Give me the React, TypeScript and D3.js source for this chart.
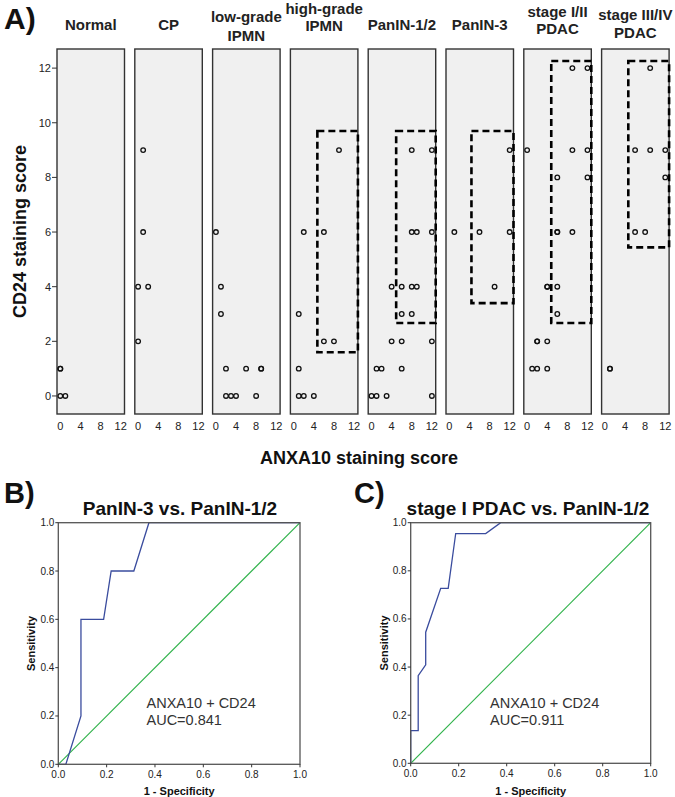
import * as d3 from 'd3';

// panel titles (one array entry per line)
const groupTitles = [
  ['Normal'],
  ['CP'],
  ['low-grade', 'IPMN'],
  ['high-grade', 'IPMN'],
  ['PanIN-1/2'],
  ['PanIN-3'],
  ['stage I/II', 'PDAC'],
  ['stage III/IV', 'PDAC'],
];

// ANXA10 score (x) and CD24 score (y) per case, per group
const anxa10 = [
  [0, 1, 0, 0],
  [1, 1, 0, 2, 0],
  [0, 1, 1, 2, 6, 9, 9, 2, 3, 4, 8],
  [9, 2, 6, 1, 6, 8, 1, 1, 2, 4],
  [8, 12, 8, 9, 12, 4, 6, 8, 9, 6, 8, 4, 6, 12, 1, 2, 6, 0, 1, 3, 12],
  [12, 1, 6, 12, 9],
  [9, 12, 0, 9, 12, 6, 12, 6, 6, 9, 4, 4, 6, 6, 2, 2, 4, 1, 2, 4],
  [9, 6, 9, 12, 12, 6, 8, 1, 1],
];
const cd24 = [
  [0, 0, 1, 1],
  [9, 6, 4, 4, 2],
  [6, 4, 3, 1, 1, 1, 1, 0, 0, 0, 0],
  [9, 6, 6, 3, 2, 2, 1, 0, 0, 0],
  [9, 9, 6, 6, 6, 4, 4, 4, 4, 3, 3, 2, 2, 2, 1, 1, 1, 0, 0, 0, 0],
  [9, 6, 6, 6, 4],
  [12, 12, 9, 9, 9, 8, 8, 6, 6, 6, 4, 4, 4, 3, 2, 2, 2, 1, 1, 1],
  [12, 9, 9, 9, 8, 6, 6, 1, 1],
];

// cut-off boxes (dashed) per group: ANXA10 lower bound, CD24 lower/upper bound
const boxAnxa = [null, null, null, 4.7, 4.9, 4.4, 4.8, 4.65];
const boxCdLow = [null, null, null, 1.6, 2.67, 3.4, 2.67, 5.44];
const boxCdHigh = [null, null, null, 9.7, 9.7, 9.7, 12.26, 12.26];

const scoreTicks = [0, 4, 8, 12];
const cdTicks = [0, 2, 4, 6, 8, 10, 12];

// ROC curves
const rocBFpr = [0, 0.03125, 0.09375, 0.09375, 0.1875, 0.21875, 0.3125, 0.375, 1];
const rocBTpr = [0, 0, 0.2, 0.6, 0.6, 0.8, 0.8, 1, 1];
const rocCFpr = [0, 0, 0.03125, 0.03125, 0.0625, 0.0625, 0.125, 0.15625, 0.1875, 0.3125, 0.375, 1];
const rocCTpr = [0, 0.136, 0.136, 0.364, 0.409, 0.545, 0.727, 0.727, 0.955, 0.955, 1, 1];
const rocTicks = [0, 0.2, 0.4, 0.6, 0.8, 1.0];

const FONT = "'Liberation Sans', Arial, sans-serif";

// layout
const panelX0 = 57;
const panelStep = 77.8;
const panelW = 67.5;
const panelTop = 49;
const panelBottom = 414;
const titleBaselines = [[30], [30], [22, 41], [14, 31], [30], [30], [17, 34], [20, 38]];

const yScore = d3.scaleLinear().domain([-0.66, 12.7]).range([panelBottom, panelTop]);

function Panel({ i }: { i: number }) {
  const x0 = panelX0 + i * panelStep;
  const x = d3.scaleLinear().domain([-0.66, 12.76]).range([x0, x0 + panelW]);
  const pts = anxa10[i].map((a, k) => [a, cd24[i][k]]);
  const bx = boxAnxa[i];
  const bl = boxCdLow[i];
  const bh = boxCdHigh[i];
  return (
    <g>
      <rect x={x0} y={panelTop} width={panelW} height={panelBottom - panelTop} fill="#f0f0f0" stroke="#333" strokeWidth={1.4} />
      {groupTitles[i].map((t, k) => (
        <text key={k} x={x0 + panelW / 2} y={titleBaselines[i][k]} textAnchor="middle" fontSize={15} fontWeight="bold" fill="#222">
          {t}
        </text>
      ))}
      {bx !== null && bl !== null && bh !== null && (
        <rect
          x={x(bx)}
          y={yScore(bh)}
          width={x0 + panelW - x(bx)}
          height={yScore(bl) - yScore(bh)}
          fill="none"
          stroke="#000"
          strokeWidth={2.6}
          strokeDasharray="7,4"
        />
      )}
      {pts.map((p, k) => (
        <circle key={k} cx={x(p[0])} cy={yScore(p[1])} r={2.3} fill="none" stroke="#111" strokeWidth={1.3} />
      ))}
      {scoreTicks.map((t) => (
        <text key={t} x={x(t)} y={430} textAnchor="middle" fontSize={11} fill="#222">
          {t}
        </text>
      ))}
    </g>
  );
}

function Roc({ left, right, top, bottom, fpr, tpr, title, titleX, letter, letterX, auc, annX }: any) {
  const x = d3.scaleLinear().domain([0, 1]).range([left, right]);
  const y = d3.scaleLinear().domain([0, 1]).range([bottom, top]);
  const line = d3.line<number>().x((d) => x(d)).y((_, k) => y(tpr[k]));
  const fmt = d3.format('.1f');
  return (
    <g>
      <text x={letterX} y={503} fontSize={29} fontWeight="bold" fill="#111">
        {letter}
      </text>
      <text x={titleX} y={515} textAnchor="middle" fontSize={19} fontWeight="bold" fill="#111">
        {title}
      </text>
      <line x1={x(0)} y1={y(0)} x2={x(1)} y2={y(1)} stroke="#2fb24a" strokeWidth={1.2} />
      <path d={line(fpr) || ''} fill="none" stroke="#3a4c9e" strokeWidth={1.3} />
      <rect x={left} y={top} width={right - left} height={bottom - top} fill="none" stroke="#555" strokeWidth={1.3} />
      {rocTicks.map((t) => (
        <g key={t}>
          <line x1={left - 3} x2={left} y1={y(t)} y2={y(t)} stroke="#333" />
          <text x={left - 4} y={y(t) + 3.5} textAnchor="end" fontSize={10} fill="#222">
            {fmt(t)}
          </text>
          <line x1={x(t)} x2={x(t)} y1={bottom} y2={bottom + 3} stroke="#333" />
          <text x={x(t)} y={bottom + 14} textAnchor="middle" fontSize={10} fill="#222">
            {fmt(t)}
          </text>
        </g>
      ))}
      <text x={(left + right) / 2} y={795} textAnchor="middle" fontSize={11} fontWeight="bold" fill="#111">
        1 - Specificity
      </text>
      <text
        transform={`translate(${left - 23},${(top + bottom) / 2}) rotate(-90)`}
        textAnchor="middle"
        fontSize={11}
        fontWeight="bold"
        fill="#111"
      >
        Sensitivity
      </text>
      <text x={annX} y={708} fontSize={14.5} fill="#333">
        ANXA10 + CD24
      </text>
      <text x={annX} y={725} fontSize={14.5} fill="#333">
        {auc}
      </text>
    </g>
  );
}

export default function App() {
  return (
    <svg
      width={675}
      height={797}
      style={{ position: 'absolute', left: 0, top: 0, background: '#fff', fontFamily: FONT }}
    >
      <text x={4} y={29} fontSize={30} fontWeight="bold" fill="#111">
        A)
      </text>
      {groupTitles.map((_, i) => (
        <Panel key={i} i={i} />
      ))}
      {cdTicks.map((t) => (
        <g key={t}>
          <line x1={panelX0 - 5} x2={panelX0} y1={yScore(t)} y2={yScore(t)} stroke="#333" />
          <text x={panelX0 - 6} y={yScore(t) + 4} textAnchor="end" fontSize={11} fill="#222">
            {t}
          </text>
        </g>
      ))}
      <text
        transform={`translate(26,${(panelTop + panelBottom) / 2}) rotate(-90)`}
        textAnchor="middle"
        fontSize={18}
        fontWeight="bold"
        fill="#111"
      >
        CD24 staining score
      </text>
      <text x={359} y={464} textAnchor="middle" fontSize={18} fontWeight="bold" fill="#111">
        ANXA10 staining score
      </text>
      <Roc
        left={58.3}
        right={300}
        top={522.7}
        bottom={764.3}
        fpr={rocBFpr}
        tpr={rocBTpr}
        title="PanIN-3 vs. PanIN-1/2"
        titleX={180}
        letter="B)"
        letterX={4}
        auc="AUC=0.841"
        annX={146.5}
      />
      <Roc
        left={410.7}
        right={650.7}
        top={522.7}
        bottom={763.3}
        fpr={rocCFpr}
        tpr={rocCTpr}
        title="stage I PDAC vs. PanIN-1/2"
        titleX={528}
        letter="C)"
        letterX={354}
        auc="AUC=0.911"
        annX={490}
      />
    </svg>
  );
}
